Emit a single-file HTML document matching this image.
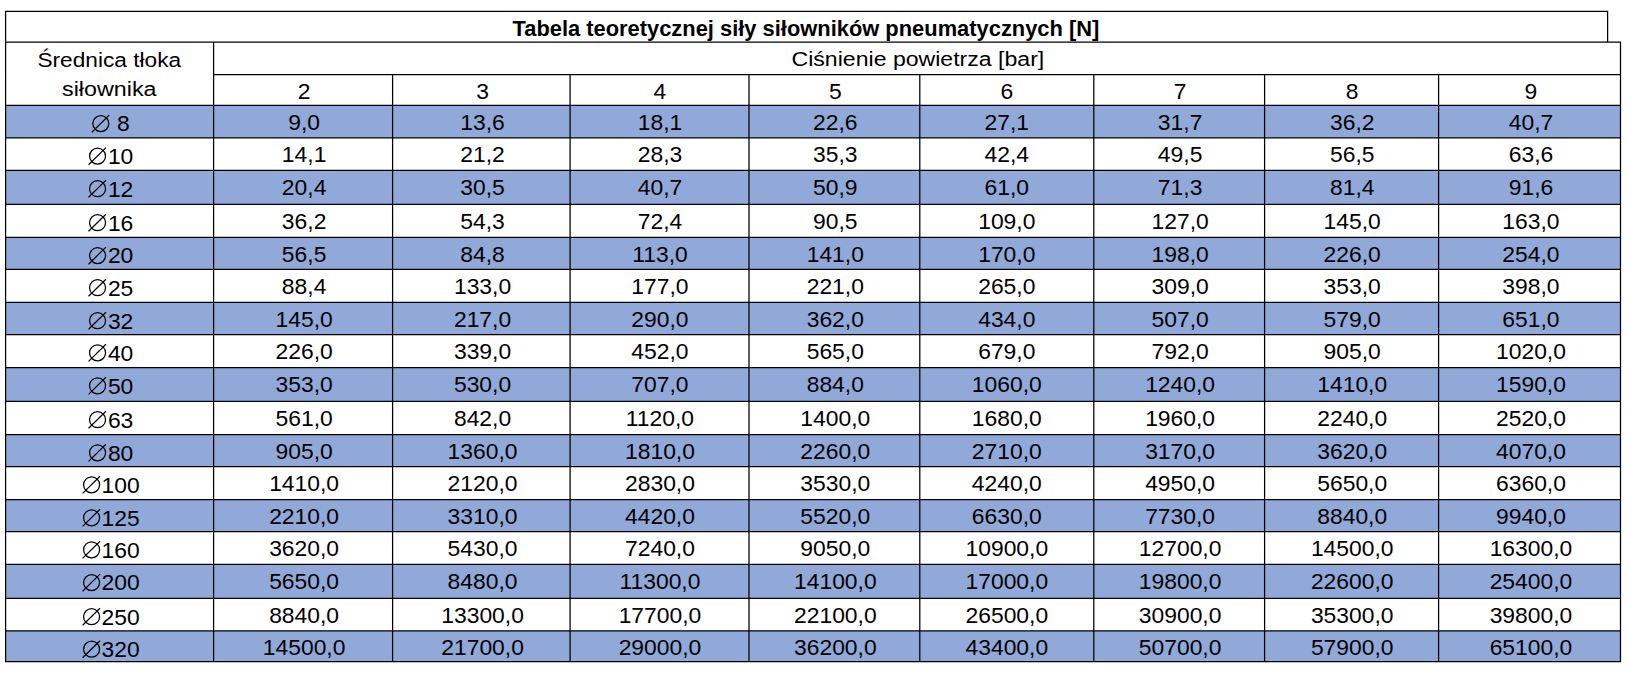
<!DOCTYPE html><html><head><meta charset="utf-8"><title>Tabela</title><style>html,body{margin:0;padding:0;background:#fff;width:1630px;height:676px;overflow:hidden}svg{display:block}text{font-family:"Liberation Sans",sans-serif;fill:#000}</style></head><body>
<svg width="1630" height="676" viewBox="0 0 1630 676">
<rect x="5.6" y="105.3" width="1614.90" height="32.50" fill="#90A9D8"/>
<rect x="5.6" y="170.4" width="1614.90" height="34.00" fill="#90A9D8"/>
<rect x="5.6" y="237.3" width="1614.90" height="32.10" fill="#90A9D8"/>
<rect x="5.6" y="302.4" width="1614.90" height="32.10" fill="#90A9D8"/>
<rect x="5.6" y="367.5" width="1614.90" height="33.90" fill="#90A9D8"/>
<rect x="5.6" y="434.5" width="1614.90" height="32.00" fill="#90A9D8"/>
<rect x="5.6" y="499.5" width="1614.90" height="32.00" fill="#90A9D8"/>
<rect x="5.6" y="564.3" width="1614.90" height="34.10" fill="#90A9D8"/>
<rect x="5.6" y="630.9" width="1614.90" height="30.70" fill="#90A9D8"/>
<path d="M4.97 11.3H1608.22 M4.97 42.0H1621.12 M212.97 74.5H1621.12 M4.97 105.3H1621.12 M4.97 137.8H1621.12 M4.97 170.4H1621.12 M4.97 204.4H1621.12 M4.97 237.3H1621.12 M4.97 269.4H1621.12 M4.97 302.4H1621.12 M4.97 334.5H1621.12 M4.97 367.5H1621.12 M4.97 401.4H1621.12 M4.97 434.5H1621.12 M4.97 466.5H1621.12 M4.97 499.5H1621.12 M4.97 531.5H1621.12 M4.97 564.3H1621.12 M4.97 598.4H1621.12 M4.97 630.9H1621.12 M4.97 661.6H1621.12 M5.6 11.3V661.6 M1607.6 11.3V42.0 M1620.5 42.0V661.6 M213.6 42.0V661.6 M392.6 74.5V661.6 M570.1 74.5V661.6 M749.0 74.5V661.6 M919.8 74.5V661.6 M1093.8 74.5V661.6 M1264.6 74.5V661.6 M1438.6 74.5V661.6" stroke="#000" stroke-width="1.25" fill="none"/>
<text transform="matrix(1.018 0 0 1 805.90 35.60)" text-anchor="middle" font-size="21.5" font-weight="bold">Tabela teoretycznej siły siłowników pneumatycznych [N]</text>
<text transform="matrix(1.09 0 0 1 109.25 66.50)" text-anchor="middle" font-size="20.8">Średnica tłoka</text>
<text transform="matrix(1.12 0 0 1 109.25 96.00)" text-anchor="middle" font-size="20.8">siłownika</text>
<text transform="matrix(1.11 0 0 1 917.90 66.00)" text-anchor="middle" font-size="20.8">Ciśnienie powietrza [bar]</text>
<text transform="matrix(1.021 0 0 1 304.10 99.00)" text-anchor="middle" font-size="22.4">2</text>
<text transform="matrix(1.021 0 0 1 482.55 99.00)" text-anchor="middle" font-size="22.4">3</text>
<text transform="matrix(1.021 0 0 1 659.95 99.00)" text-anchor="middle" font-size="22.4">4</text>
<text transform="matrix(1.021 0 0 1 835.30 99.00)" text-anchor="middle" font-size="22.4">5</text>
<text transform="matrix(1.021 0 0 1 1006.80 99.00)" text-anchor="middle" font-size="22.4">6</text>
<text transform="matrix(1.021 0 0 1 1180.10 99.00)" text-anchor="middle" font-size="22.4">7</text>
<text transform="matrix(1.021 0 0 1 1352.20 99.00)" text-anchor="middle" font-size="22.4">8</text>
<text transform="matrix(1.021 0 0 1 1530.95 99.00)" text-anchor="middle" font-size="22.4">9</text>
<text transform="matrix(1.021 0 0 1 304.10 129.80)" text-anchor="middle" font-size="22.4">9,0</text>
<text transform="matrix(1.021 0 0 1 482.55 129.80)" text-anchor="middle" font-size="22.4">13,6</text>
<text transform="matrix(1.021 0 0 1 659.95 129.80)" text-anchor="middle" font-size="22.4">18,1</text>
<text transform="matrix(1.021 0 0 1 835.30 129.80)" text-anchor="middle" font-size="22.4">22,6</text>
<text transform="matrix(1.021 0 0 1 1006.80 129.80)" text-anchor="middle" font-size="22.4">27,1</text>
<text transform="matrix(1.021 0 0 1 1180.10 129.80)" text-anchor="middle" font-size="22.4">31,7</text>
<text transform="matrix(1.021 0 0 1 1352.20 129.80)" text-anchor="middle" font-size="22.4">36,2</text>
<text transform="matrix(1.021 0 0 1 1530.95 129.80)" text-anchor="middle" font-size="22.4">40,7</text>
<g transform="translate(100.80 123.60)"><circle cx="0" cy="0" r="8.0" fill="none" stroke="#000" stroke-width="1.25"/><path d="M-9 8.6L8.4 -8.5" stroke="#000" stroke-width="1.2"/></g>
<text transform="matrix(1.021 0 0 1 123.30 131.40)" text-anchor="middle" font-size="22.4">8</text>
<text transform="matrix(1.021 0 0 1 304.10 162.30)" text-anchor="middle" font-size="22.4">14,1</text>
<text transform="matrix(1.021 0 0 1 482.55 162.30)" text-anchor="middle" font-size="22.4">21,2</text>
<text transform="matrix(1.021 0 0 1 659.95 162.30)" text-anchor="middle" font-size="22.4">28,3</text>
<text transform="matrix(1.021 0 0 1 835.30 162.30)" text-anchor="middle" font-size="22.4">35,3</text>
<text transform="matrix(1.021 0 0 1 1006.80 162.30)" text-anchor="middle" font-size="22.4">42,4</text>
<text transform="matrix(1.021 0 0 1 1180.10 162.30)" text-anchor="middle" font-size="22.4">49,5</text>
<text transform="matrix(1.021 0 0 1 1352.20 162.30)" text-anchor="middle" font-size="22.4">56,5</text>
<text transform="matrix(1.021 0 0 1 1530.95 162.30)" text-anchor="middle" font-size="22.4">63,6</text>
<g transform="translate(97.55 156.10)"><circle cx="0" cy="0" r="8.0" fill="none" stroke="#000" stroke-width="1.25"/><path d="M-9 8.6L8.4 -8.5" stroke="#000" stroke-width="1.2"/></g>
<text transform="matrix(1.021 0 0 1 120.60 163.90)" text-anchor="middle" font-size="22.4">10</text>
<text transform="matrix(1.021 0 0 1 304.10 194.90)" text-anchor="middle" font-size="22.4">20,4</text>
<text transform="matrix(1.021 0 0 1 482.55 194.90)" text-anchor="middle" font-size="22.4">30,5</text>
<text transform="matrix(1.021 0 0 1 659.95 194.90)" text-anchor="middle" font-size="22.4">40,7</text>
<text transform="matrix(1.021 0 0 1 835.30 194.90)" text-anchor="middle" font-size="22.4">50,9</text>
<text transform="matrix(1.021 0 0 1 1006.80 194.90)" text-anchor="middle" font-size="22.4">61,0</text>
<text transform="matrix(1.021 0 0 1 1180.10 194.90)" text-anchor="middle" font-size="22.4">71,3</text>
<text transform="matrix(1.021 0 0 1 1352.20 194.90)" text-anchor="middle" font-size="22.4">81,4</text>
<text transform="matrix(1.021 0 0 1 1530.95 194.90)" text-anchor="middle" font-size="22.4">91,6</text>
<g transform="translate(97.55 188.70)"><circle cx="0" cy="0" r="8.0" fill="none" stroke="#000" stroke-width="1.25"/><path d="M-9 8.6L8.4 -8.5" stroke="#000" stroke-width="1.2"/></g>
<text transform="matrix(1.021 0 0 1 120.60 196.50)" text-anchor="middle" font-size="22.4">12</text>
<text transform="matrix(1.021 0 0 1 304.10 228.90)" text-anchor="middle" font-size="22.4">36,2</text>
<text transform="matrix(1.021 0 0 1 482.55 228.90)" text-anchor="middle" font-size="22.4">54,3</text>
<text transform="matrix(1.021 0 0 1 659.95 228.90)" text-anchor="middle" font-size="22.4">72,4</text>
<text transform="matrix(1.021 0 0 1 835.30 228.90)" text-anchor="middle" font-size="22.4">90,5</text>
<text transform="matrix(1.021 0 0 1 1006.80 228.90)" text-anchor="middle" font-size="22.4">109,0</text>
<text transform="matrix(1.021 0 0 1 1180.10 228.90)" text-anchor="middle" font-size="22.4">127,0</text>
<text transform="matrix(1.021 0 0 1 1352.20 228.90)" text-anchor="middle" font-size="22.4">145,0</text>
<text transform="matrix(1.021 0 0 1 1530.95 228.90)" text-anchor="middle" font-size="22.4">163,0</text>
<g transform="translate(97.55 222.70)"><circle cx="0" cy="0" r="8.0" fill="none" stroke="#000" stroke-width="1.25"/><path d="M-9 8.6L8.4 -8.5" stroke="#000" stroke-width="1.2"/></g>
<text transform="matrix(1.021 0 0 1 120.60 230.50)" text-anchor="middle" font-size="22.4">16</text>
<text transform="matrix(1.021 0 0 1 304.10 261.80)" text-anchor="middle" font-size="22.4">56,5</text>
<text transform="matrix(1.021 0 0 1 482.55 261.80)" text-anchor="middle" font-size="22.4">84,8</text>
<text transform="matrix(1.021 0 0 1 659.95 261.80)" text-anchor="middle" font-size="22.4">113,0</text>
<text transform="matrix(1.021 0 0 1 835.30 261.80)" text-anchor="middle" font-size="22.4">141,0</text>
<text transform="matrix(1.021 0 0 1 1006.80 261.80)" text-anchor="middle" font-size="22.4">170,0</text>
<text transform="matrix(1.021 0 0 1 1180.10 261.80)" text-anchor="middle" font-size="22.4">198,0</text>
<text transform="matrix(1.021 0 0 1 1352.20 261.80)" text-anchor="middle" font-size="22.4">226,0</text>
<text transform="matrix(1.021 0 0 1 1530.95 261.80)" text-anchor="middle" font-size="22.4">254,0</text>
<g transform="translate(97.55 255.60)"><circle cx="0" cy="0" r="8.0" fill="none" stroke="#000" stroke-width="1.25"/><path d="M-9 8.6L8.4 -8.5" stroke="#000" stroke-width="1.2"/></g>
<text transform="matrix(1.021 0 0 1 120.60 263.40)" text-anchor="middle" font-size="22.4">20</text>
<text transform="matrix(1.021 0 0 1 304.10 293.90)" text-anchor="middle" font-size="22.4">88,4</text>
<text transform="matrix(1.021 0 0 1 482.55 293.90)" text-anchor="middle" font-size="22.4">133,0</text>
<text transform="matrix(1.021 0 0 1 659.95 293.90)" text-anchor="middle" font-size="22.4">177,0</text>
<text transform="matrix(1.021 0 0 1 835.30 293.90)" text-anchor="middle" font-size="22.4">221,0</text>
<text transform="matrix(1.021 0 0 1 1006.80 293.90)" text-anchor="middle" font-size="22.4">265,0</text>
<text transform="matrix(1.021 0 0 1 1180.10 293.90)" text-anchor="middle" font-size="22.4">309,0</text>
<text transform="matrix(1.021 0 0 1 1352.20 293.90)" text-anchor="middle" font-size="22.4">353,0</text>
<text transform="matrix(1.021 0 0 1 1530.95 293.90)" text-anchor="middle" font-size="22.4">398,0</text>
<g transform="translate(97.55 287.70)"><circle cx="0" cy="0" r="8.0" fill="none" stroke="#000" stroke-width="1.25"/><path d="M-9 8.6L8.4 -8.5" stroke="#000" stroke-width="1.2"/></g>
<text transform="matrix(1.021 0 0 1 120.60 295.50)" text-anchor="middle" font-size="22.4">25</text>
<text transform="matrix(1.021 0 0 1 304.10 326.90)" text-anchor="middle" font-size="22.4">145,0</text>
<text transform="matrix(1.021 0 0 1 482.55 326.90)" text-anchor="middle" font-size="22.4">217,0</text>
<text transform="matrix(1.021 0 0 1 659.95 326.90)" text-anchor="middle" font-size="22.4">290,0</text>
<text transform="matrix(1.021 0 0 1 835.30 326.90)" text-anchor="middle" font-size="22.4">362,0</text>
<text transform="matrix(1.021 0 0 1 1006.80 326.90)" text-anchor="middle" font-size="22.4">434,0</text>
<text transform="matrix(1.021 0 0 1 1180.10 326.90)" text-anchor="middle" font-size="22.4">507,0</text>
<text transform="matrix(1.021 0 0 1 1352.20 326.90)" text-anchor="middle" font-size="22.4">579,0</text>
<text transform="matrix(1.021 0 0 1 1530.95 326.90)" text-anchor="middle" font-size="22.4">651,0</text>
<g transform="translate(97.55 320.70)"><circle cx="0" cy="0" r="8.0" fill="none" stroke="#000" stroke-width="1.25"/><path d="M-9 8.6L8.4 -8.5" stroke="#000" stroke-width="1.2"/></g>
<text transform="matrix(1.021 0 0 1 120.60 328.50)" text-anchor="middle" font-size="22.4">32</text>
<text transform="matrix(1.021 0 0 1 304.10 359.00)" text-anchor="middle" font-size="22.4">226,0</text>
<text transform="matrix(1.021 0 0 1 482.55 359.00)" text-anchor="middle" font-size="22.4">339,0</text>
<text transform="matrix(1.021 0 0 1 659.95 359.00)" text-anchor="middle" font-size="22.4">452,0</text>
<text transform="matrix(1.021 0 0 1 835.30 359.00)" text-anchor="middle" font-size="22.4">565,0</text>
<text transform="matrix(1.021 0 0 1 1006.80 359.00)" text-anchor="middle" font-size="22.4">679,0</text>
<text transform="matrix(1.021 0 0 1 1180.10 359.00)" text-anchor="middle" font-size="22.4">792,0</text>
<text transform="matrix(1.021 0 0 1 1352.20 359.00)" text-anchor="middle" font-size="22.4">905,0</text>
<text transform="matrix(1.021 0 0 1 1530.95 359.00)" text-anchor="middle" font-size="22.4">1020,0</text>
<g transform="translate(97.55 352.80)"><circle cx="0" cy="0" r="8.0" fill="none" stroke="#000" stroke-width="1.25"/><path d="M-9 8.6L8.4 -8.5" stroke="#000" stroke-width="1.2"/></g>
<text transform="matrix(1.021 0 0 1 120.60 360.60)" text-anchor="middle" font-size="22.4">40</text>
<text transform="matrix(1.021 0 0 1 304.10 392.00)" text-anchor="middle" font-size="22.4">353,0</text>
<text transform="matrix(1.021 0 0 1 482.55 392.00)" text-anchor="middle" font-size="22.4">530,0</text>
<text transform="matrix(1.021 0 0 1 659.95 392.00)" text-anchor="middle" font-size="22.4">707,0</text>
<text transform="matrix(1.021 0 0 1 835.30 392.00)" text-anchor="middle" font-size="22.4">884,0</text>
<text transform="matrix(1.021 0 0 1 1006.80 392.00)" text-anchor="middle" font-size="22.4">1060,0</text>
<text transform="matrix(1.021 0 0 1 1180.10 392.00)" text-anchor="middle" font-size="22.4">1240,0</text>
<text transform="matrix(1.021 0 0 1 1352.20 392.00)" text-anchor="middle" font-size="22.4">1410,0</text>
<text transform="matrix(1.021 0 0 1 1530.95 392.00)" text-anchor="middle" font-size="22.4">1590,0</text>
<g transform="translate(97.55 385.80)"><circle cx="0" cy="0" r="8.0" fill="none" stroke="#000" stroke-width="1.25"/><path d="M-9 8.6L8.4 -8.5" stroke="#000" stroke-width="1.2"/></g>
<text transform="matrix(1.021 0 0 1 120.60 393.60)" text-anchor="middle" font-size="22.4">50</text>
<text transform="matrix(1.021 0 0 1 304.10 425.90)" text-anchor="middle" font-size="22.4">561,0</text>
<text transform="matrix(1.021 0 0 1 482.55 425.90)" text-anchor="middle" font-size="22.4">842,0</text>
<text transform="matrix(1.021 0 0 1 659.95 425.90)" text-anchor="middle" font-size="22.4">1120,0</text>
<text transform="matrix(1.021 0 0 1 835.30 425.90)" text-anchor="middle" font-size="22.4">1400,0</text>
<text transform="matrix(1.021 0 0 1 1006.80 425.90)" text-anchor="middle" font-size="22.4">1680,0</text>
<text transform="matrix(1.021 0 0 1 1180.10 425.90)" text-anchor="middle" font-size="22.4">1960,0</text>
<text transform="matrix(1.021 0 0 1 1352.20 425.90)" text-anchor="middle" font-size="22.4">2240,0</text>
<text transform="matrix(1.021 0 0 1 1530.95 425.90)" text-anchor="middle" font-size="22.4">2520,0</text>
<g transform="translate(97.55 419.70)"><circle cx="0" cy="0" r="8.0" fill="none" stroke="#000" stroke-width="1.25"/><path d="M-9 8.6L8.4 -8.5" stroke="#000" stroke-width="1.2"/></g>
<text transform="matrix(1.021 0 0 1 120.60 427.50)" text-anchor="middle" font-size="22.4">63</text>
<text transform="matrix(1.021 0 0 1 304.10 459.00)" text-anchor="middle" font-size="22.4">905,0</text>
<text transform="matrix(1.021 0 0 1 482.55 459.00)" text-anchor="middle" font-size="22.4">1360,0</text>
<text transform="matrix(1.021 0 0 1 659.95 459.00)" text-anchor="middle" font-size="22.4">1810,0</text>
<text transform="matrix(1.021 0 0 1 835.30 459.00)" text-anchor="middle" font-size="22.4">2260,0</text>
<text transform="matrix(1.021 0 0 1 1006.80 459.00)" text-anchor="middle" font-size="22.4">2710,0</text>
<text transform="matrix(1.021 0 0 1 1180.10 459.00)" text-anchor="middle" font-size="22.4">3170,0</text>
<text transform="matrix(1.021 0 0 1 1352.20 459.00)" text-anchor="middle" font-size="22.4">3620,0</text>
<text transform="matrix(1.021 0 0 1 1530.95 459.00)" text-anchor="middle" font-size="22.4">4070,0</text>
<g transform="translate(97.55 452.80)"><circle cx="0" cy="0" r="8.0" fill="none" stroke="#000" stroke-width="1.25"/><path d="M-9 8.6L8.4 -8.5" stroke="#000" stroke-width="1.2"/></g>
<text transform="matrix(1.021 0 0 1 120.60 460.60)" text-anchor="middle" font-size="22.4">80</text>
<text transform="matrix(1.021 0 0 1 304.10 491.00)" text-anchor="middle" font-size="22.4">1410,0</text>
<text transform="matrix(1.021 0 0 1 482.55 491.00)" text-anchor="middle" font-size="22.4">2120,0</text>
<text transform="matrix(1.021 0 0 1 659.95 491.00)" text-anchor="middle" font-size="22.4">2830,0</text>
<text transform="matrix(1.021 0 0 1 835.30 491.00)" text-anchor="middle" font-size="22.4">3530,0</text>
<text transform="matrix(1.021 0 0 1 1006.80 491.00)" text-anchor="middle" font-size="22.4">4240,0</text>
<text transform="matrix(1.021 0 0 1 1180.10 491.00)" text-anchor="middle" font-size="22.4">4950,0</text>
<text transform="matrix(1.021 0 0 1 1352.20 491.00)" text-anchor="middle" font-size="22.4">5650,0</text>
<text transform="matrix(1.021 0 0 1 1530.95 491.00)" text-anchor="middle" font-size="22.4">6360,0</text>
<g transform="translate(91.60 484.80)"><circle cx="0" cy="0" r="8.0" fill="none" stroke="#000" stroke-width="1.25"/><path d="M-9 8.6L8.4 -8.5" stroke="#000" stroke-width="1.2"/></g>
<text transform="matrix(1.021 0 0 1 120.60 492.60)" text-anchor="middle" font-size="22.4">100</text>
<text transform="matrix(1.021 0 0 1 304.10 524.00)" text-anchor="middle" font-size="22.4">2210,0</text>
<text transform="matrix(1.021 0 0 1 482.55 524.00)" text-anchor="middle" font-size="22.4">3310,0</text>
<text transform="matrix(1.021 0 0 1 659.95 524.00)" text-anchor="middle" font-size="22.4">4420,0</text>
<text transform="matrix(1.021 0 0 1 835.30 524.00)" text-anchor="middle" font-size="22.4">5520,0</text>
<text transform="matrix(1.021 0 0 1 1006.80 524.00)" text-anchor="middle" font-size="22.4">6630,0</text>
<text transform="matrix(1.021 0 0 1 1180.10 524.00)" text-anchor="middle" font-size="22.4">7730,0</text>
<text transform="matrix(1.021 0 0 1 1352.20 524.00)" text-anchor="middle" font-size="22.4">8840,0</text>
<text transform="matrix(1.021 0 0 1 1530.95 524.00)" text-anchor="middle" font-size="22.4">9940,0</text>
<g transform="translate(91.60 517.80)"><circle cx="0" cy="0" r="8.0" fill="none" stroke="#000" stroke-width="1.25"/><path d="M-9 8.6L8.4 -8.5" stroke="#000" stroke-width="1.2"/></g>
<text transform="matrix(1.021 0 0 1 120.60 525.60)" text-anchor="middle" font-size="22.4">125</text>
<text transform="matrix(1.021 0 0 1 304.10 556.00)" text-anchor="middle" font-size="22.4">3620,0</text>
<text transform="matrix(1.021 0 0 1 482.55 556.00)" text-anchor="middle" font-size="22.4">5430,0</text>
<text transform="matrix(1.021 0 0 1 659.95 556.00)" text-anchor="middle" font-size="22.4">7240,0</text>
<text transform="matrix(1.021 0 0 1 835.30 556.00)" text-anchor="middle" font-size="22.4">9050,0</text>
<text transform="matrix(1.021 0 0 1 1006.80 556.00)" text-anchor="middle" font-size="22.4">10900,0</text>
<text transform="matrix(1.021 0 0 1 1180.10 556.00)" text-anchor="middle" font-size="22.4">12700,0</text>
<text transform="matrix(1.021 0 0 1 1352.20 556.00)" text-anchor="middle" font-size="22.4">14500,0</text>
<text transform="matrix(1.021 0 0 1 1530.95 556.00)" text-anchor="middle" font-size="22.4">16300,0</text>
<g transform="translate(91.60 549.80)"><circle cx="0" cy="0" r="8.0" fill="none" stroke="#000" stroke-width="1.25"/><path d="M-9 8.6L8.4 -8.5" stroke="#000" stroke-width="1.2"/></g>
<text transform="matrix(1.021 0 0 1 120.60 557.60)" text-anchor="middle" font-size="22.4">160</text>
<text transform="matrix(1.021 0 0 1 304.10 588.80)" text-anchor="middle" font-size="22.4">5650,0</text>
<text transform="matrix(1.021 0 0 1 482.55 588.80)" text-anchor="middle" font-size="22.4">8480,0</text>
<text transform="matrix(1.021 0 0 1 659.95 588.80)" text-anchor="middle" font-size="22.4">11300,0</text>
<text transform="matrix(1.021 0 0 1 835.30 588.80)" text-anchor="middle" font-size="22.4">14100,0</text>
<text transform="matrix(1.021 0 0 1 1006.80 588.80)" text-anchor="middle" font-size="22.4">17000,0</text>
<text transform="matrix(1.021 0 0 1 1180.10 588.80)" text-anchor="middle" font-size="22.4">19800,0</text>
<text transform="matrix(1.021 0 0 1 1352.20 588.80)" text-anchor="middle" font-size="22.4">22600,0</text>
<text transform="matrix(1.021 0 0 1 1530.95 588.80)" text-anchor="middle" font-size="22.4">25400,0</text>
<g transform="translate(91.60 582.60)"><circle cx="0" cy="0" r="8.0" fill="none" stroke="#000" stroke-width="1.25"/><path d="M-9 8.6L8.4 -8.5" stroke="#000" stroke-width="1.2"/></g>
<text transform="matrix(1.021 0 0 1 120.60 590.40)" text-anchor="middle" font-size="22.4">200</text>
<text transform="matrix(1.021 0 0 1 304.10 622.90)" text-anchor="middle" font-size="22.4">8840,0</text>
<text transform="matrix(1.021 0 0 1 482.55 622.90)" text-anchor="middle" font-size="22.4">13300,0</text>
<text transform="matrix(1.021 0 0 1 659.95 622.90)" text-anchor="middle" font-size="22.4">17700,0</text>
<text transform="matrix(1.021 0 0 1 835.30 622.90)" text-anchor="middle" font-size="22.4">22100,0</text>
<text transform="matrix(1.021 0 0 1 1006.80 622.90)" text-anchor="middle" font-size="22.4">26500,0</text>
<text transform="matrix(1.021 0 0 1 1180.10 622.90)" text-anchor="middle" font-size="22.4">30900,0</text>
<text transform="matrix(1.021 0 0 1 1352.20 622.90)" text-anchor="middle" font-size="22.4">35300,0</text>
<text transform="matrix(1.021 0 0 1 1530.95 622.90)" text-anchor="middle" font-size="22.4">39800,0</text>
<g transform="translate(91.60 616.70)"><circle cx="0" cy="0" r="8.0" fill="none" stroke="#000" stroke-width="1.25"/><path d="M-9 8.6L8.4 -8.5" stroke="#000" stroke-width="1.2"/></g>
<text transform="matrix(1.021 0 0 1 120.60 624.50)" text-anchor="middle" font-size="22.4">250</text>
<text transform="matrix(1.021 0 0 1 304.10 655.40)" text-anchor="middle" font-size="22.4">14500,0</text>
<text transform="matrix(1.021 0 0 1 482.55 655.40)" text-anchor="middle" font-size="22.4">21700,0</text>
<text transform="matrix(1.021 0 0 1 659.95 655.40)" text-anchor="middle" font-size="22.4">29000,0</text>
<text transform="matrix(1.021 0 0 1 835.30 655.40)" text-anchor="middle" font-size="22.4">36200,0</text>
<text transform="matrix(1.021 0 0 1 1006.80 655.40)" text-anchor="middle" font-size="22.4">43400,0</text>
<text transform="matrix(1.021 0 0 1 1180.10 655.40)" text-anchor="middle" font-size="22.4">50700,0</text>
<text transform="matrix(1.021 0 0 1 1352.20 655.40)" text-anchor="middle" font-size="22.4">57900,0</text>
<text transform="matrix(1.021 0 0 1 1530.95 655.40)" text-anchor="middle" font-size="22.4">65100,0</text>
<g transform="translate(91.60 649.20)"><circle cx="0" cy="0" r="8.0" fill="none" stroke="#000" stroke-width="1.25"/><path d="M-9 8.6L8.4 -8.5" stroke="#000" stroke-width="1.2"/></g>
<text transform="matrix(1.021 0 0 1 120.60 657.00)" text-anchor="middle" font-size="22.4">320</text>
</svg></body></html>
